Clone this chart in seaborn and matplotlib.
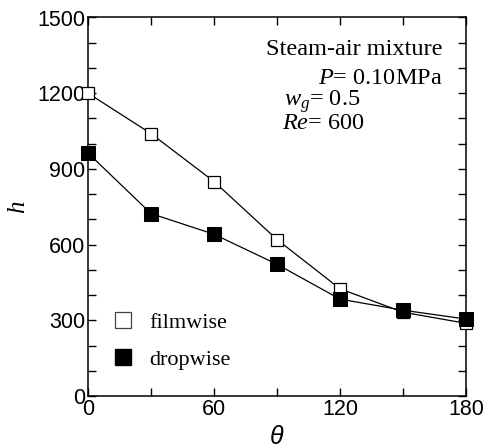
import matplotlib
matplotlib.use("Agg")
import matplotlib.pyplot as plt
from matplotlib.lines import Line2D
import seaborn as sns
import pandas as pd

theta = [0, 30, 60, 90, 120, 150, 180]
h_filmwise = [1200, 1040, 850, 620, 425, 332, 288]
h_dropwise = [963, 723, 641, 522, 384, 340, 305]
x_ticks = [0, 60, 120, 180]
y_ticks = [0, 300, 600, 900, 1200, 1500]

sns.set_theme(style="ticks")
plt.rcParams["font.family"] = ["Liberation Sans", "DejaVu Sans"]
plt.rcParams["text.color"] = "black"
plt.rcParams["axes.labelcolor"] = "black"
plt.rcParams["mathtext.fontset"] = "custom"
plt.rcParams["mathtext.rm"] = "Liberation Serif"
plt.rcParams["mathtext.it"] = "Liberation Serif:italic"

df = pd.DataFrame({
    "theta": theta * 2,
    "h": h_filmwise + h_dropwise,
    "mode": ["filmwise"] * len(theta) + ["dropwise"] * len(theta),
})

fig = plt.figure(figsize=(4.89, 4.48), dpi=100)
ax = fig.add_axes([88 / 489, 1 - 396 / 448, (466 - 88) / 489, (396 - 17.5) / 448])

sns.lineplot(data=df[df["mode"] == "filmwise"], x="theta", y="h", ax=ax,
             color="black", linewidth=0.9, marker="s", markersize=9,
             markerfacecolor="white", markeredgecolor="black", markeredgewidth=0.9,
             clip_on=False, zorder=3)
sns.lineplot(data=df[df["mode"] == "dropwise"], x="theta", y="h", ax=ax,
             color="black", linewidth=0.9, marker="s", markersize=9.8,
             markerfacecolor="black", markeredgecolor="black",
             clip_on=False, zorder=4)

ax.set_xlim(0, 180)
ax.set_ylim(0, 1500)
ax.set_xticks(x_ticks)
ax.set_yticks(y_ticks)
ax.set_xticks(range(0, 181, 30), minor=True)
ax.set_yticks(range(0, 1501, 100), minor=True)
ax.tick_params(which="both", direction="in", top=True, right=True,
               labelsize=15.5, color="black", labelcolor="black", pad=2)
ax.tick_params(which="major", length=6, width=1)
ax.tick_params(which="minor", length=6, width=1)
for s in ax.spines.values():
    s.set_color("black")
    s.set_linewidth(1.1)

ax.set_xlabel("θ", fontsize=18, style="italic", family="Liberation Sans", labelpad=4)
ax.set_ylabel("h", fontsize=18, style="italic", family="Liberation Serif", labelpad=6)

serif = "Liberation Serif"
fs = 17.5
ax.text(0.939, 0.916, "Steam-air mixture", transform=ax.transAxes, ha="right",
        va="center", fontsize=fs, family=serif)
ax.text(0.939, 0.84, r"$P$= 0.10MPa", transform=ax.transAxes, ha="right",
        va="center", fontsize=fs, family=serif)
ax.text(0.518, 0.777, r"$w_g$= 0.5", transform=ax.transAxes, ha="left",
        va="center", fontsize=fs, family=serif)
ax.text(0.513, 0.719, r"$Re$= 600", transform=ax.transAxes, ha="left",
        va="center", fontsize=fs, family=serif)

handles = [
    Line2D([], [], linestyle="none", marker="s", markersize=11.5,
           markerfacecolor="white", markeredgecolor="#444444", markeredgewidth=0.9),
    Line2D([], [], linestyle="none", marker="s", markersize=12.2,
           markerfacecolor="black", markeredgecolor="black"),
]
ax.legend(handles, ["filmwise", "dropwise"], loc="lower left",
          bbox_to_anchor=(0.009, 0.016), frameon=False,
          prop={"family": serif, "size": 16}, handletextpad=0.7,
          labelspacing=0.75, handlelength=1.0)

fig.savefig("out.png", dpi=100)
